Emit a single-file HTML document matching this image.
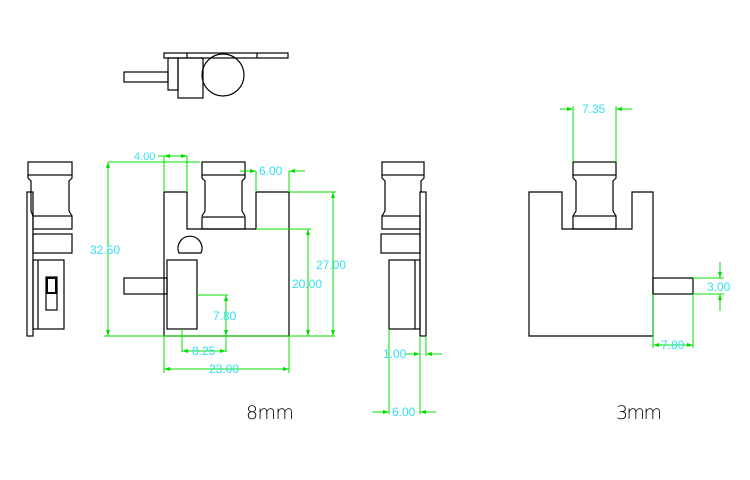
<!DOCTYPE html>
<html><head><style>
html,body{margin:0;padding:0;background:#fff;}
svg{display:block;}
.k{fill:none;stroke:#000;stroke-width:1.2;}
.g{fill:none;stroke:#00e000;stroke-width:1;}
.t{fill:#33e0f0;font-family:"Liberation Sans",sans-serif;font-size:12px;}
.a{fill:#00e000;}
</style></head><body>
<svg width="750" height="480" viewBox="0 0 750 480" xmlns="http://www.w3.org/2000/svg">
<rect width="750" height="480" fill="#fff"/>
<!-- top view -->
<g class="k">
<rect x="164" y="53" width="124" height="5"/>
<line x1="187" y1="53" x2="187" y2="58"/><line x1="257" y1="53" x2="257" y2="58"/>
<rect x="168" y="58" width="10" height="32"/>
<rect x="178" y="58" width="25" height="40"/>
<rect x="124" y="72" width="44" height="10"/>
<circle cx="223" cy="75" r="21"/>
</g>
<!-- left side view -->
<g class="k">
<rect x="28" y="162" width="44" height="13"/>
<path d="M28 175 L28 178 L31 181 L31 211 L33 216 M72 175 L72 178 L69 181 L69 211 L72 216"/>
<rect x="33" y="216" width="39" height="13"/>
<rect x="27" y="192" width="6" height="144"/>
<rect x="33" y="234" width="39" height="19"/>
<rect x="33" y="260" width="31" height="69"/>
<line x1="38" y1="260" x2="38" y2="329"/>
<rect x="46" y="277" width="11" height="33"/>
<rect x="47" y="278" width="9" height="15" stroke-width="2"/>
</g>
<!-- main view -->
<g class="k">
<path d="M164 192 L187 192 L187 229 L256 229 L256 192 L289 192 L289 336 L164 336 Z"/>
<rect x="202" y="162" width="43" height="13"/>
<path d="M202 175 L202 178 L205 181 L205 211 L202 216 M245 175 L245 178 L242 181 L242 211 L245 216"/>
<rect x="202" y="217" width="43" height="12"/>
<path d="M179 253 A12 12 0 1 1 201 253 Z"/>
<rect x="167" y="260" width="30" height="69"/>
<rect x="124" y="278" width="43" height="16"/>
</g>
<g class="g">
<line x1="108" y1="162" x2="200" y2="162"/><line x1="108" y1="162" x2="108" y2="336"/>
<line x1="104" y1="336" x2="335" y2="336"/>
<line x1="164" y1="156" x2="164" y2="192"/><line x1="187" y1="156" x2="187" y2="192"/>
<line x1="158" y1="156" x2="187" y2="156"/>
<line x1="256" y1="171" x2="256" y2="192"/><line x1="289" y1="171" x2="289" y2="192"/>
<line x1="240" y1="171" x2="256" y2="171"/><line x1="289" y1="171" x2="305" y2="171"/>
<line x1="289" y1="192" x2="336" y2="192"/><line x1="333" y1="192" x2="333" y2="336"/>
<line x1="256" y1="229" x2="311" y2="229"/><line x1="308" y1="229" x2="308" y2="336"/>
<line x1="197" y1="295" x2="228" y2="295"/><line x1="226" y1="295" x2="226" y2="352"/>
<line x1="182" y1="329" x2="182" y2="352"/><line x1="182" y1="351" x2="226" y2="351"/>
<line x1="164" y1="336" x2="164" y2="373"/><line x1="289" y1="336" x2="289" y2="373"/>
<line x1="164" y1="369" x2="289" y2="369"/>
</g>
<g class="a">
<path d="M108 162 l-2 6 h4z M108 336 l-2 -6 h4z M333 192 l-2 6 h4z M333 336 l-2 -6 h4z M308 229 l-2 6 h4z M308 336 l-2 -6 h4z M226 295 l-2 6 h4z M226 336 l-2 -6 h4z"/>
<path d="M182 351 l6 -2 v4z M226 351 l-6 -2 v4z M164 369 l6 -2 v4z M289 369 l-6 -2 v4z M164 156 l6 -2 v4z M187 156 l-6 -2 v4z M256 171 l-6 -2 v4z M289 171 l6 -2 v4z"/>
</g>
<g class="t">
<text x="134" y="160" style="font-size:11px">4.00</text>
<text x="259" y="175">6.00</text>
<text x="90" y="254">32.50</text>
<text x="316" y="269">27.00</text>
<text x="292" y="288">20.00</text>
<text x="213" y="320">7.80</text>
<text x="192" y="355">8.25</text>
<text x="209" y="373">23.00</text>
</g>
<!-- right side view -->
<g class="k">
<rect x="382" y="162" width="42" height="13"/>
<path d="M382 175 L382 178 L385 181 L385 211 L382 216 M424 175 L424 178 L421 181 L421 192"/>
<rect x="382" y="216" width="38" height="13"/>
<rect x="420" y="192" width="6" height="144"/>
<rect x="381" y="234" width="39" height="19"/>
<rect x="389" y="260" width="31" height="69"/>
<line x1="415" y1="260" x2="415" y2="329"/>
</g>
<g class="g">
<line x1="389" y1="329" x2="389" y2="414"/><line x1="420" y1="336" x2="420" y2="414"/>
<line x1="426" y1="336" x2="426" y2="356"/>
<line x1="405" y1="354" x2="420" y2="354"/><line x1="426" y1="354" x2="442" y2="354"/>
<line x1="372" y1="412" x2="389" y2="412"/><line x1="420" y1="412" x2="436" y2="412"/>
</g>
<g class="a"><path d="M420 354 l-6 -2 v4z M426 354 l6 -2 v4z M389 412 l-6 -2 v4z M420 412 l6 -2 v4z"/></g>
<g class="t"><text x="383" y="358">1.00</text><text x="392" y="416">6.00</text></g>
<!-- 3mm view -->
<g class="k">
<path d="M529 192 L562 192 L562 229 L632 229 L632 192 L653 192 L653 336 L529 336 Z"/>
<rect x="573" y="162" width="43" height="13"/>
<path d="M573 175 L573 178 L576 181 L576 211 L573 216 M616 175 L616 178 L613 181 L613 211 L616 216"/>
<rect x="573" y="216" width="43" height="13"/>
<rect x="653" y="278" width="40" height="16"/>
</g>
<g class="g">
<line x1="573" y1="106" x2="573" y2="162"/><line x1="616" y1="106" x2="616" y2="162"/>
<line x1="560" y1="109" x2="573" y2="109"/><line x1="616" y1="109" x2="632" y2="109"/>
<line x1="693" y1="278" x2="724" y2="278"/><line x1="693" y1="294" x2="724" y2="294"/>
<line x1="720" y1="262" x2="720" y2="278"/><line x1="720" y1="294" x2="720" y2="311"/>
<line x1="653" y1="294" x2="653" y2="348"/><line x1="693" y1="294" x2="693" y2="348"/>
<line x1="653" y1="345" x2="693" y2="345"/>
</g>
<g class="a"><path d="M573 109 l-6 -2 v4z M616 109 l6 -2 v4z M720 278 l-2 -6 h4z M720 294 l-2 6 h4z M653 345 l6 -2 v4z M693 345 l-6 -2 v4z"/></g>
<g class="t"><text x="582" y="113">7.35</text><text x="707" y="291">3.00</text><text x="661" y="349">7.80</text></g>
<g style="font-family:'DejaVu Sans','Liberation Sans',sans-serif;font-size:19px;fill:#000;font-weight:200">
<text x="246" y="419" textLength="48">8mm</text>
<text x="616" y="419" textLength="46">3mm</text>
</g>
</svg>
</body></html>
